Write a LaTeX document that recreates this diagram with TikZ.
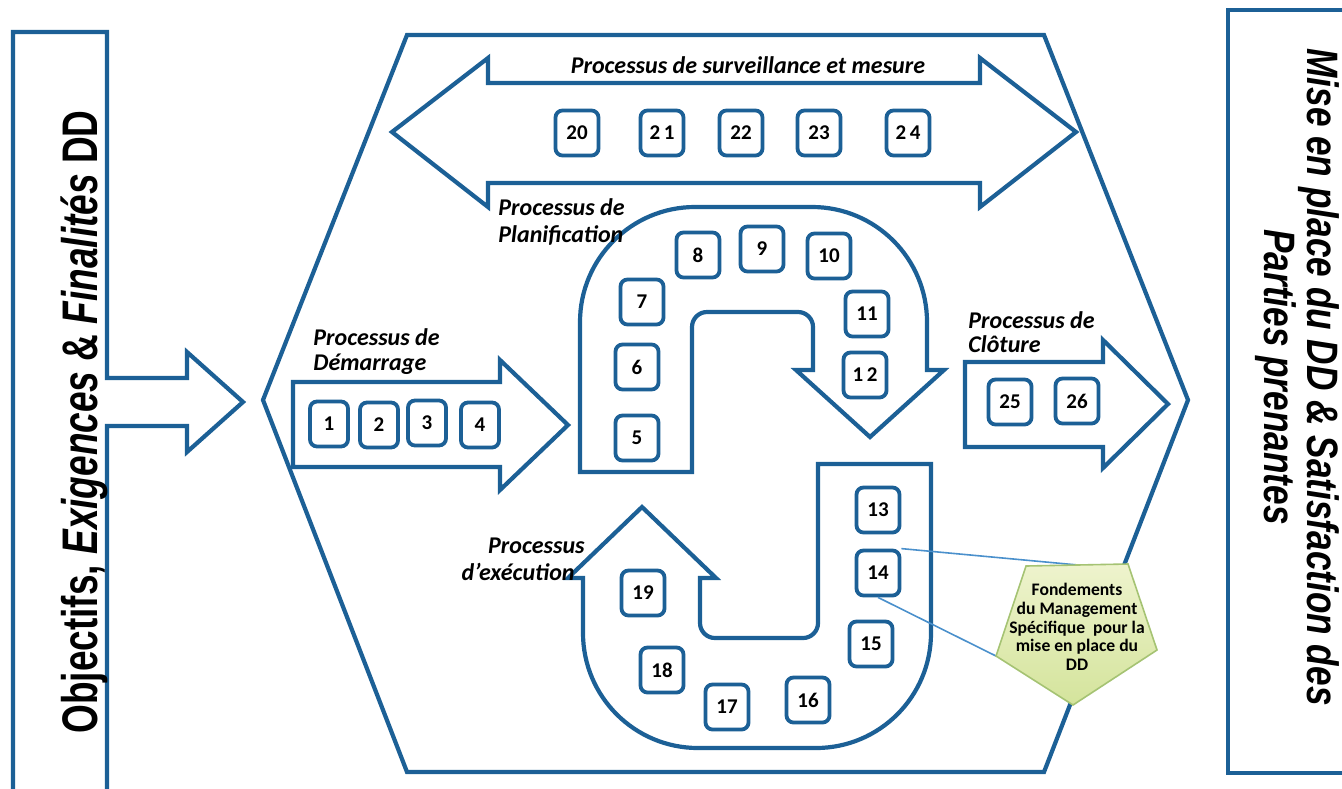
\documentclass[tikz,border=0pt]{standalone}
\usepackage{fontspec}
\setmainfont{Carlito}
\newfontfamily\sidefont[FakeStretch=0.74]{Liberation Sans}
\newfontfamily\sidefontb[FakeStretch=0.8]{Liberation Sans}
\definecolor{myblue}{RGB}{28,96,150}
\definecolor{lineblue}{RGB}{74,144,204}
\definecolor{penttop}{RGB}{238,243,205}
\definecolor{pentbot}{RGB}{212,228,156}
\definecolor{pentdraw}{RGB}{165,195,115}
\begin{document}
\begin{tikzpicture}[x=0.5pt,y=0.5pt,
  shapeline/.style={draw=myblue,line width=2.1pt,line join=miter},
  nbox/.style={draw=myblue,line width=1.9pt,rounded corners=3.5pt,minimum width=21.5pt,minimum height=22.5pt,inner sep=0pt,font=\bfseries\fontsize{10.5}{12}\selectfont},
  nboxs/.style={nbox,minimum width=19pt},
  plabel/.style={font=\bfseries\itshape\fontsize{12}{13.5}\selectfont,inner sep=0pt},
  sidetext/.style={font=\sidefont\bfseries\fontsize{25}{26}\selectfont,inner sep=0pt,align=center},
  connector/.style={draw=lineblue,line width=0.8pt}
]
\clip (0,0) rectangle (1342,-788);
\fill[white] (0,0) rectangle (1342,-788);

% left box with arrow
\draw[shapeline] (107,-378) -- (107,-32) -- (13,-32) -- (13,-800) -- (107,-800) -- (107,-426)
  -- (187,-426) -- (187,-452) -- (243,-402) -- (187,-352) -- (187,-378) -- cycle;
\node[sidetext,rotate=90] (objtext) at (84,-422) {Objectifs, \textit{Exigences} \& \textit{Finalités} DD};

% right box
\draw[shapeline] (1228,-10) rectangle (1380,-773);
\node[sidetext,rotate=-90,font=\sidefontb\bfseries\itshape\fontsize{22}{20.5}\selectfont] (misetext) at (1297,-377)
  {Mise en place du DD \& Satisfaction des\\Parties prenantes};

% hexagon
\draw[shapeline] (263,-400) -- (407,-35) -- (1044,-35) -- (1188,-400) -- (1044,-772) -- (407,-772) -- cycle;

% surveillance double arrow
\draw[shapeline] (392,-132) -- (488,-58) -- (488,-83) -- (980,-83) -- (980,-58) -- (1076,-132)
  -- (980,-207) -- (980,-183) -- (488,-183) -- (488,-207) -- cycle;
\node[plabel,anchor=base] (lblsurv) at (748,-73) {Processus de surveillance et mesure};

% demarrage arrow
\draw[shapeline] (293,-382) -- (500,-382) -- (500,-360) -- (568,-425) -- (500,-490) -- (500,-467) -- (293,-467) -- cycle;
\node[plabel,anchor=base west] (lbldem1) at (313,-345) {Processus de};
\node[plabel,anchor=base west] (lbldem2) at (313,-370) {Démarrage};

% cloture arrow
\draw[shapeline] (965,-362) -- (1103,-362) -- (1103,-340) -- (1168,-404) -- (1103,-468) -- (1103,-447) -- (965,-447) -- cycle;
\node[plabel,anchor=base west] (lblclo1) at (968,-328) {Processus de};
\node[plabel,anchor=base west] (lblclo2) at (968,-352) {Clôture};

% planification arch
\draw[shapeline] (692,-472) -- (580,-472) -- (580,-322) arc[start angle=180,end angle=90,radius=115]
  -- (812,-207) arc[start angle=90,end angle=0,radius=115]
  -- (927,-370) -- (944,-370) -- (870,-437) -- (796,-370) -- (813,-370)
  -- (813,-327) arc[start angle=0,end angle=90,radius=15]
  -- (707,-312) arc[start angle=90,end angle=180,radius=15] -- cycle;
\node[plabel,anchor=base west] (lblpla1) at (498,-215) {Processus de};
\node[plabel,anchor=base west] (lblpla2) at (498,-242) {Planification};

% execution U
\draw[shapeline] (818,-464) -- (931,-464) -- (931,-633) arc[start angle=0,end angle=-90,radius=115]
  -- (698,-748) arc[start angle=-90,end angle=-180,radius=115]
  -- (583,-578) -- (568,-578) -- (642,-507) -- (716,-578) -- (700,-578)
  -- (700,-623) arc[start angle=180,end angle=270,radius=15]
  -- (803,-638) arc[start angle=270,end angle=360,radius=15] -- cycle;
\node[plabel,anchor=base east] (lblexe1) at (585,-553) {Processus};
\node[plabel,anchor=base east] (lblexe2) at (575,-580) {d'exécution};

% boxes
\node[nboxs] (b1) at (329,-424) {1};
\node[nboxs] (b2) at (379,-425) {2};
\node[nboxs] (b3) at (427,-423) {3};
\node[nboxs] (b4) at (480,-425) {4};
\node[nbox] (b5) at (637,-438) {5};
\node[nbox] (b6) at (637,-367) {6};
\node[nbox] (b7) at (642,-302) {7};
\node[nbox] (b8) at (698,-255) {8};
\node[nbox] (b9) at (762,-249) {9};
\node[nbox] (b10) at (829,-256) {10};
\node[nbox] (b11) at (867,-314) {11};
\node[nbox] (b12) at (865,-375) {1\,2};
\node[nbox] (b13) at (878,-510) {13};
\node[nbox] (b14) at (878,-573) {14};
\node[nbox] (b15) at (871,-644) {15};
\node[nbox] (b16) at (808,-700) {16};
\node[nbox] (b17) at (727,-707) {17};
\node[nbox] (b18) at (662,-670) {18};
\node[nbox] (b19) at (643,-593) {19};
\node[nbox] (b20) at (577,-133) {20};
\node[nbox] (b21) at (662,-133) {2\,1};
\node[nbox] (b22) at (741,-133) {22};
\node[nbox] (b23) at (819,-133) {23};
\node[nbox] (b24) at (908,-133) {2\,4};
\node[nbox] (b25) at (1010,-402) {25};
\node[nbox] (b26) at (1077,-401) {26};

% pentagon note
\coordinate (pTL) at (1026,-566);
\coordinate (pTR) at (1128,-564);
\coordinate (pR) at (1157,-650);
\coordinate (pB) at (1073,-705);
\coordinate (pL) at (996,-656);
\coordinate (pTop) at (1078,-565);
\draw[connector] (b14.north east) -- (pTop);
\draw[connector] (b14.south) -- (pL);
\draw[draw=pentdraw,line width=0.8pt,top color=penttop,bottom color=pentbot] (pTL) -- (pTR) -- (pR) -- (pB) -- (pL) -- cycle;
\node[align=center,inner sep=0pt,font=\bfseries\fontsize{8.8}{9.4}\selectfont] (fond) at (1077,-627)
  {Fondements\\du Management\\Spécifique~ pour la\\mise en place du\\DD};
\end{tikzpicture}
\end{document}
